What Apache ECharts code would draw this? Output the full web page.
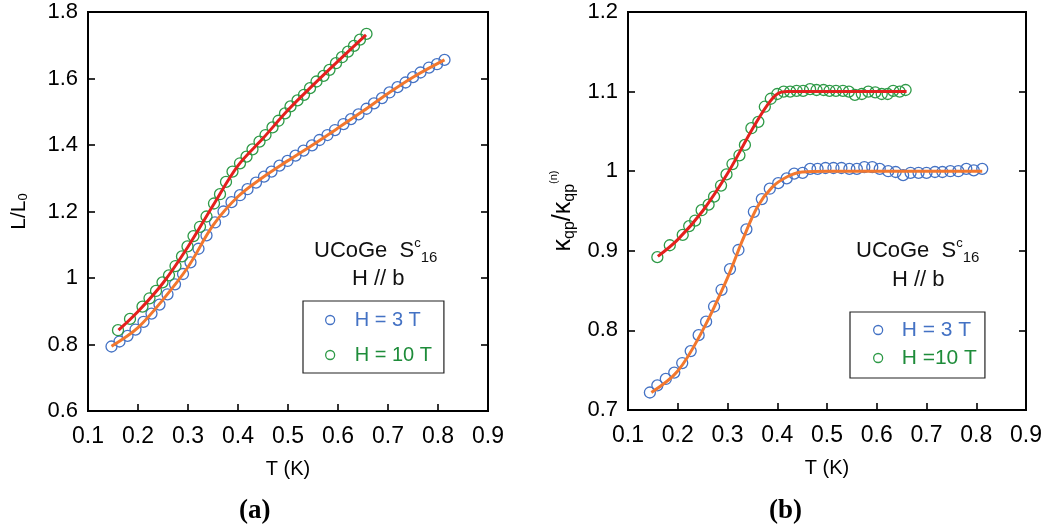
<!DOCTYPE html>
<html><head><meta charset="utf-8">
<script src="https://cdn.jsdelivr.net/npm/echarts@6/dist/echarts.min.js"></script>
<style>html,body{margin:0;padding:0;background:#fff}#c{width:1046px;height:532px}</style>
</head><body><div id="c"></div>
<script>
// ---------- DATA ----------
// Panel (a): L/L0 vs T
const aT3 = [0.147,0.163,0.179,0.195,0.211,0.227,0.243,0.259,0.274,0.290,0.305,0.321,0.337,0.354,0.371,0.387,0.404,0.419,0.436,0.452,0.467,0.483,0.499,0.515,0.531,0.548,0.563,0.579,0.594,0.611,0.626,0.641,0.657,0.672,0.688,0.703,0.719,0.735,0.750,0.765,0.782,0.798,0.813];
const aL3 = [0.794,0.809,0.826,0.845,0.868,0.893,0.920,0.951,0.981,1.012,1.047,1.088,1.128,1.167,1.200,1.228,1.249,1.267,1.287,1.305,1.320,1.338,1.352,1.368,1.383,1.399,1.415,1.430,1.445,1.463,1.478,1.492,1.509,1.525,1.541,1.558,1.574,1.588,1.604,1.618,1.633,1.643,1.656];
const aT10 = [0.160,0.184,0.209,0.223,0.236,0.249,0.262,0.275,0.288,0.299,0.311,0.324,0.337,0.352,0.364,0.376,0.389,0.404,0.417,0.429,0.443,0.455,0.469,0.481,0.494,0.505,0.519,0.532,0.544,0.557,0.571,0.583,0.596,0.608,0.620,0.632,0.644,0.657];
const aL10 = [0.843,0.877,0.914,0.939,0.961,0.987,1.008,1.036,1.065,1.095,1.126,1.154,1.185,1.224,1.252,1.289,1.320,1.345,1.365,1.387,1.410,1.430,1.453,1.473,1.495,1.516,1.534,1.551,1.571,1.591,1.608,1.626,1.646,1.664,1.681,1.698,1.717,1.734];
const aFitT3 = [0.147,0.2,0.25,0.3,0.35,0.4,0.45,0.5,0.55,0.6,0.65,0.7,0.75,0.813];
const aFitL3 = [0.795,0.851,0.935,1.033,1.158,1.245,1.303,1.353,1.401,1.451,1.502,1.555,1.604,1.656];
const aFitT10 = [0.161,0.2,0.25,0.3,0.35,0.4,0.45,0.5,0.55,0.6,0.656];
const aFitL10 = [0.843,0.899,0.985,1.094,1.218,1.338,1.420,1.505,1.580,1.652,1.731];

// Panel (b): kappa_qp / kappa_qp(n) vs T
const bT3 = [0.144,0.159,0.176,0.193,0.209,0.226,0.242,0.257,0.273,0.288,0.305,0.322,0.338,0.353,0.369,0.385,0.402,0.419,0.434,0.451,0.466,0.481,0.497,0.513,0.529,0.545,0.560,0.575,0.591,0.606,0.623,0.638,0.653,0.668,0.684,0.700,0.717,0.732,0.748,0.764,0.780,0.795,0.812];
const bK3 = [0.722,0.731,0.739,0.747,0.759,0.774,0.794,0.811,0.830,0.851,0.877,0.901,0.927,0.949,0.965,0.978,0.985,0.991,0.997,0.998,1.003,1.003,1.004,1.004,1.004,1.003,1.003,1.005,1.005,1.003,1.000,0.999,0.995,0.998,0.998,0.998,0.999,0.999,1.000,1.000,1.003,1.001,1.003];
const bT10 = [0.159,0.184,0.210,0.223,0.235,0.248,0.262,0.273,0.287,0.298,0.310,0.324,0.335,0.348,0.362,0.375,0.387,0.400,0.413,0.426,0.439,0.452,0.466,0.479,0.493,0.505,0.518,0.532,0.544,0.556,0.570,0.583,0.597,0.610,0.622,0.633,0.646,0.658];
const bK10 = [0.892,0.907,0.920,0.931,0.938,0.951,0.958,0.968,0.982,0.996,1.009,1.020,1.033,1.054,1.062,1.081,1.091,1.097,1.100,1.100,1.101,1.101,1.103,1.102,1.102,1.101,1.101,1.101,1.100,1.096,1.097,1.100,1.099,1.097,1.097,1.101,1.100,1.102];
const bFitT3 = [0.147,0.2,0.25,0.3,0.33,0.36,0.39,0.42,0.45,0.5,0.812];
const bFitK3 = [0.722,0.749,0.800,0.866,0.913,0.955,0.980,0.993,0.999,1.000,1.000];
const bFitT10 = [0.160,0.2,0.25,0.3,0.35,0.38,0.40,0.42,0.5,0.66];
const bFitK10 = [0.893,0.914,0.950,0.997,1.053,1.083,1.097,1.100,1.100,1.100];

// tick labels
const xTicks = ['0.1','0.2','0.3','0.4','0.5','0.6','0.7','0.8','0.9'];
const aYTicks = ['0.6','0.8','1','1.2','1.4','1.6','1.8'];
const bYTicks = ['0.7','0.8','0.9','1','1.1','1.2'];
// ----------------------------------------------------

const zip = (a, b) => a.map((v, i) => [v, b[i]]);
const SANS = "'Liberation Sans', Arial, sans-serif";
const NARROW = "'Liberation Sans Narrow', 'Liberation Sans', Arial, sans-serif";
const BLUE = '#4472C4', GREEN = '#2E9A47', RED = '#E4201E', ORANGE = '#F2772E';
const GREENTXT = '#1E8C3A';

function xAx(g) {
  return {
    gridIndex: g, type: 'value', min: 0.1, max: 0.9, interval: 0.1,
    name: 'T (K)', nameLocation: 'middle', nameGap: 48,
    nameTextStyle: { fontFamily: SANS, fontSize: 20, color: '#000' },
    axisLine: { show: true, lineStyle: { color: '#000', width: 2 } },
    axisTick: { inside: true, length: 7, lineStyle: { color: '#000', width: 1.6 } },
    axisLabel: { margin: 14, fontFamily: NARROW, fontSize: 23, color: '#000',
      formatter: v => xTicks[Math.round((v - 0.1) * 10)] },
    splitLine: { show: false }
  };
}
function yAx(g, min, max, iv, labels, name, gap, rich) {
  return {
    gridIndex: g, type: 'value', min, max, interval: iv,
    name, nameLocation: 'middle', nameGap: gap, nameRotate: 90,
    nameTextStyle: { fontFamily: SANS, color: '#000', rich },
    axisLine: { show: true, lineStyle: { color: '#000', width: 2 } },
    axisTick: { inside: true, length: 7, lineStyle: { color: '#000', width: 1.6 } },
    axisLabel: { margin: 10, fontFamily: SANS, fontSize: 22, color: '#000',
      formatter: v => labels[Math.round((v - min) / iv)] },
    splitLine: { show: false }
  };
}
function yRight(g, min, max, iv) {
  return {
    gridIndex: g, type: 'value', min, max, interval: iv, position: 'right',
    axisLine: { show: true, lineStyle: { color: '#000', width: 2 } },
    axisTick: { inside: true, length: 7, lineStyle: { color: '#000', width: 1.6 } },
    axisLabel: { show: false }, splitLine: { show: false }
  };
}
function scat(name, xi, yi, data, color) {
  return {
    type: 'scatter', name, xAxisIndex: xi, yAxisIndex: yi, data,
    symbol: 'circle', symbolSize: 11, z: 2,
    itemStyle: { color: 'rgba(255,255,255,0)', borderColor: color, borderWidth: 1.3, opacity: 1 }
  };
}
function fit(xi, yi, data, color) {
  return {
    type: 'line', xAxisIndex: xi, yAxisIndex: yi, data, showSymbol: false,
    smooth: 0.35, z: 3, silent: true,
    lineStyle: { color, width: 3 }
  };
}
function legendItem(name, color, tcolor) {
  return { name, icon: 'circle',
    itemStyle: { color: 'rgba(255,255,255,0)', borderColor: color, borderWidth: 1.3 },
    textStyle: { color: tcolor } };
}
const annRich = {
  a: { fontFamily: SANS, fontSize: 22, fill: '#111', lineHeight: 28, verticalAlign: 'middle' },
  sup: { fontFamily: SANS, fontSize: 13, fill: '#111', lineHeight: 28, verticalAlign: 'top' },
  sub: { fontFamily: SANS, fontSize: 15, fill: '#111', lineHeight: 28, verticalAlign: 'bottom' }
};

const chart = echarts.init(document.getElementById('c'), null, { renderer: 'canvas' });
chart.setOption({
  animation: false,
  backgroundColor: '#fff',
  grid: [
    { left: 88, top: 12, width: 400, height: 399, show: true, borderColor: '#000', borderWidth: 2, backgroundColor: 'transparent' },
    { left: 628, top: 12, width: 398, height: 398, show: true, borderColor: '#000', borderWidth: 2, backgroundColor: 'transparent' }
  ],
  xAxis: [xAx(0), xAx(1)],
  yAxis: [
    yAx(0, 0.6, 1.8, 0.2, aYTicks, '{m|L/L}{s|0}', 58,
      { m: { fontSize: 21, fontFamily: SANS, color: '#000', verticalAlign: 'bottom', lineHeight: 24 },
        s: { fontSize: 13, fontFamily: SANS, color: '#000', verticalAlign: 'bottom', lineHeight: 20 } }),
    yRight(0, 0.6, 1.8, 0.2),
    yAx(1, 0.7, 1.2, 0.1, bYTicks, '{k|κ}{s|qp}{k|/κ}{s|qp}{p|(n)}', 50,
      { k: { fontSize: 25, fontFamily: SANS, color: '#000', lineHeight: 30, verticalAlign: 'middle' },
        s: { fontSize: 16, fontFamily: SANS, color: '#000', lineHeight: 30, verticalAlign: 'bottom' },
        p: { fontSize: 11, fontFamily: SANS, color: '#000', lineHeight: 30, verticalAlign: 'top' } }),
    yRight(1, 0.7, 1.2, 0.1)
  ],
  legend: [
    { left: 303, top: 301, orient: 'vertical', borderColor: '#222', borderWidth: 1.2, borderRadius: 0,
      padding: [8, 12, 7, 22], itemGap: 13, itemWidth: 9, itemHeight: 9, selectedMode: false,
      textStyle: { fontFamily: SANS, fontSize: 20, lineHeight: 22, padding: [0, 0, 0, 15] },
      data: [legendItem('H = 3 T', BLUE, BLUE), legendItem('H = 10 T', GREEN, GREENTXT)] },
    { left: 850, top: 312, orient: 'vertical', borderColor: '#222', borderWidth: 1.2, borderRadius: 0,
      padding: [7, 8, 9, 23], itemGap: 6, itemWidth: 9, itemHeight: 9, selectedMode: false,
      textStyle: { fontFamily: SANS, fontSize: 21, lineHeight: 22, padding: [0, 0, 0, 14] },
      data: [legendItem('H = 3 T', BLUE, BLUE), legendItem('H =10 T', GREEN, GREENTXT)] }
  ],
  graphic: [
    { type: 'text', left: 314, top: 237, style: { text: '{a|UCoGe  S}{sup|c}{sub|16}', rich: annRich } },
    { type: 'text', left: 352, top: 268, style: { text: 'H // b', font: '22px ' + SANS, fill: '#111' } },
    { type: 'text', left: 856, top: 237, style: { text: '{a|UCoGe  S}{sup|c}{sub|16}', rich: annRich } },
    { type: 'text', left: 892, top: 269, style: { text: 'H // b', font: '22px ' + SANS, fill: '#111' } },
    { type: 'text', left: 239, top: 498, style: { text: '(a)', font: 'bold 27px "Liberation Serif", serif', fill: '#000' } },
    { type: 'text', left: 769, top: 498, style: { text: '(b)', font: 'bold 27px "Liberation Serif", serif', fill: '#000' } }
  ],
  series: [
    scat('H = 3 T', 0, 0, zip(aT3, aL3), BLUE),
    scat('H = 10 T', 0, 0, zip(aT10, aL10), GREEN),
    fit(0, 0, zip(aFitT3, aFitL3), ORANGE),
    fit(0, 0, zip(aFitT10, aFitL10), RED),
    scat('H = 3 T', 1, 2, zip(bT3, bK3), BLUE),
    scat('H =10 T', 1, 2, zip(bT10, bK10), GREEN),
    fit(1, 2, zip(bFitT3, bFitK3), ORANGE),
    fit(1, 2, zip(bFitT10, bFitK10), RED)
  ]
});
</script></body></html>
